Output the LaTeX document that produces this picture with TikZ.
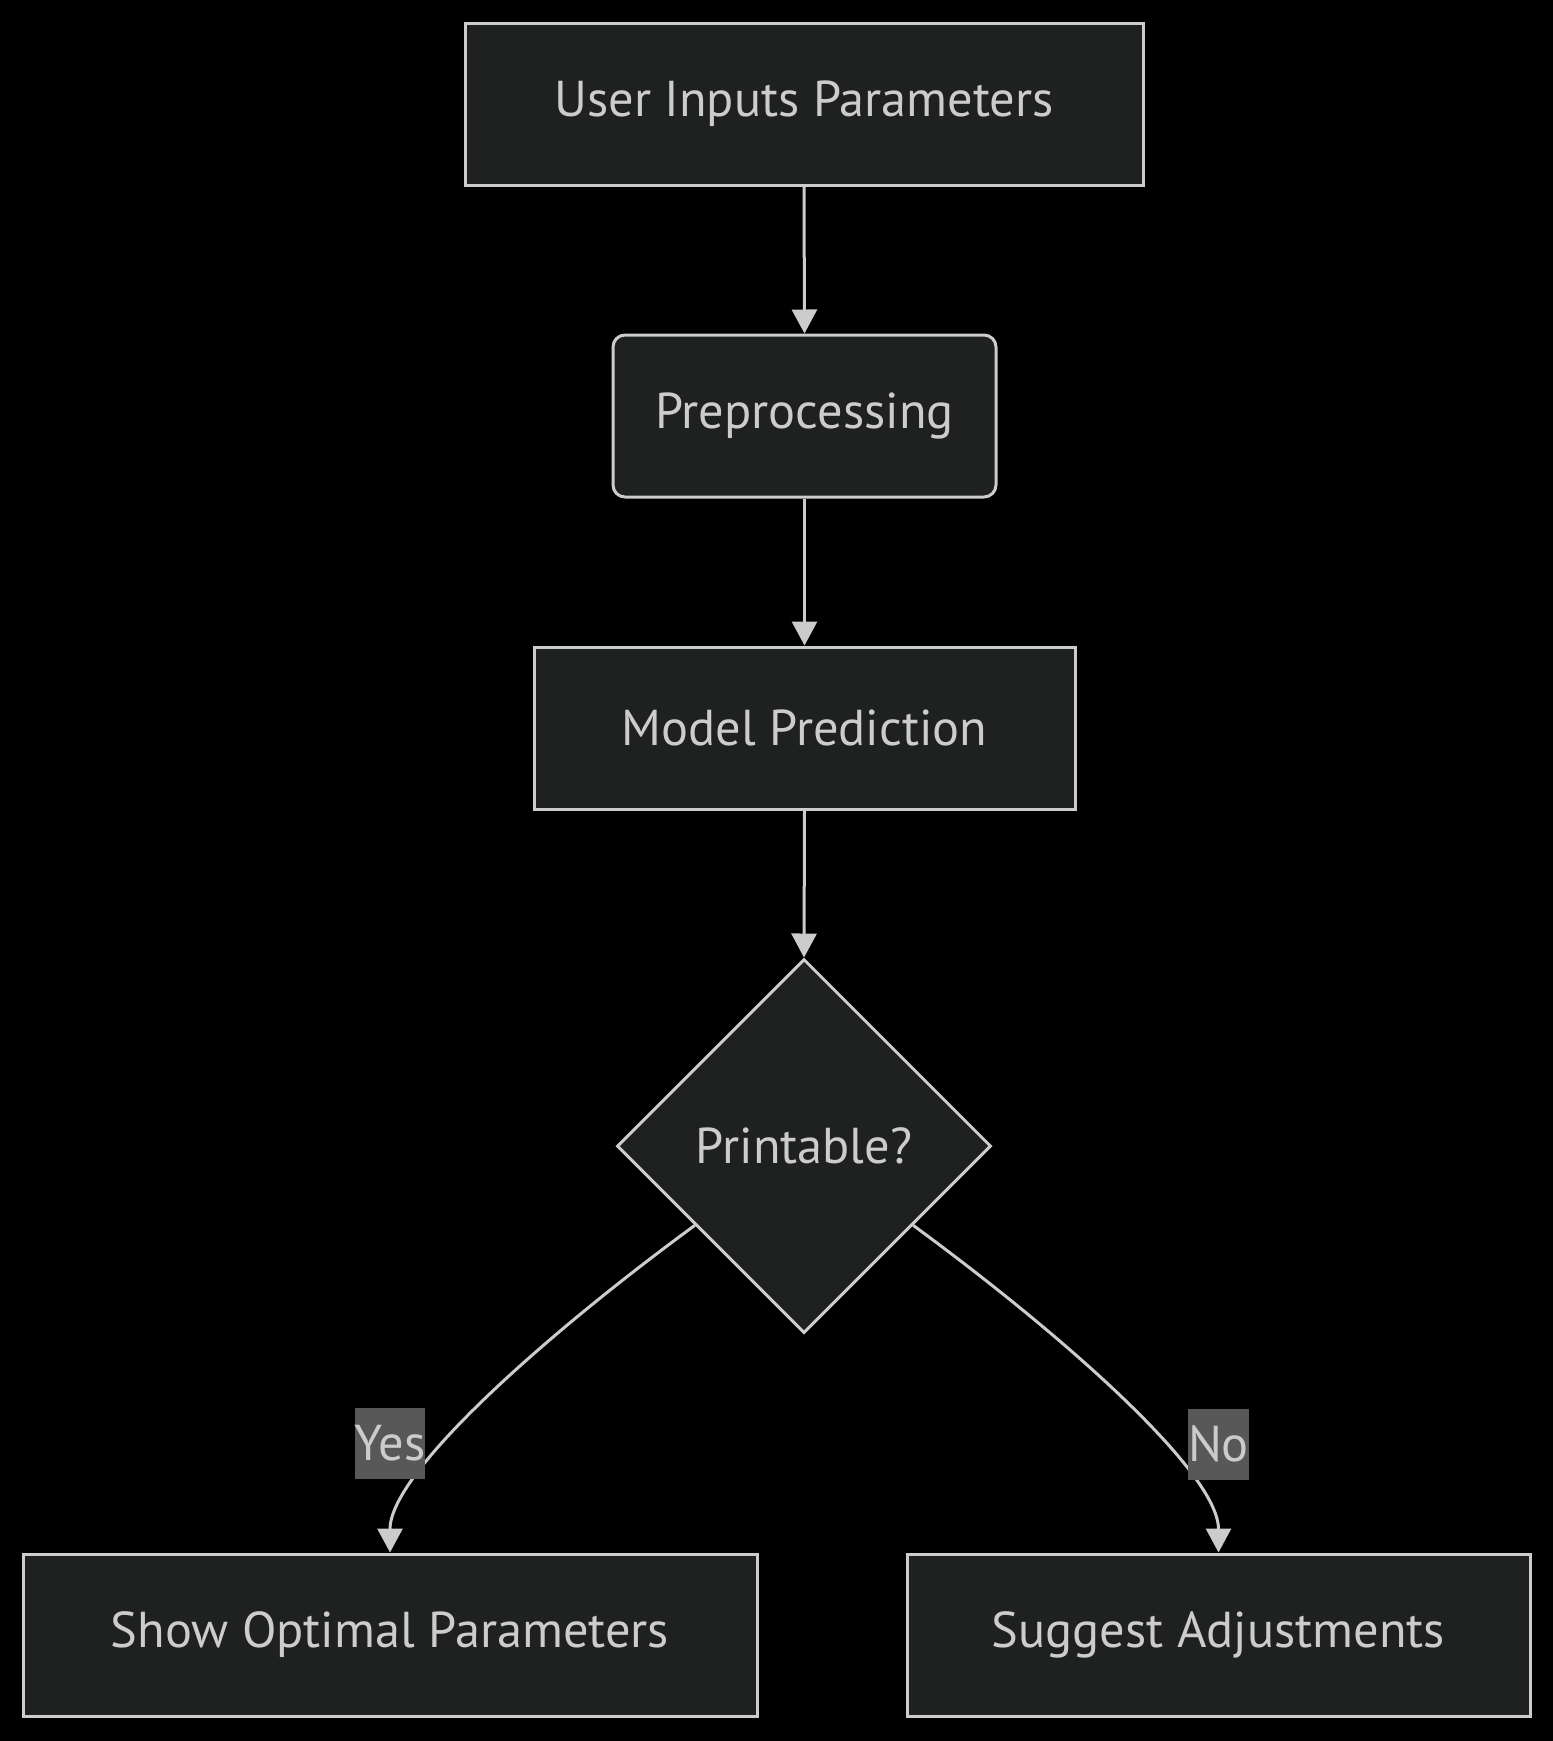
\documentclass[tikz,border=0pt]{standalone}
\usepackage{fontspec}
\setmainfont{PT Sans}
\usetikzlibrary{shapes.geometric,arrows.meta,positioning}
\definecolor{nodefill}{HTML}{1F2020}
\definecolor{linecol}{HTML}{CCCCCC}
\definecolor{labelfill}{HTML}{585858}

\begin{document}
\begin{tikzpicture}[x=0.5pt,y=-0.5pt,
        box/.style={draw=linecol, fill=nodefill, line width=1.5pt, text=linecol,
            font=\fontsize{25.2}{29}\selectfont, inner sep=0pt, minimum height=81pt},
        decision/.style={box, diamond, aspect=1, minimum width=187pt, minimum height=187pt},
        edgelabel/.style={fill=labelfill, text=linecol, inner sep=0pt,
            font=\fontsize{25.2}{29}\selectfont, minimum height=35.5pt},
        flow/.style={draw=linecol, line width=1.5pt, -{Triangle[length=12pt,width=12.5pt]}}]
        \fill[black] (0,0) rectangle (1553,1741);
        \useasboundingbox (0,0) rectangle (1553,1741);
        % nodes
        \node[box, minimum width=339pt] (input) at (804,104) {User Inputs Parameters};
        \node[box, rounded corners=6pt, minimum width=191.5pt] (prep) at (804.5,416) {Preprocessing};
        \node[box, minimum width=270.5pt] (model) at (804.5,728) {Model Prediction};
        \node[decision] (check) at (804,1146) {Printable?};
        \node[box, minimum width=367pt] (show) at (390,1635) {Show Optimal Parameters};
        \node[box, minimum width=311.5pt] (adjust) at (1218.5,1635) {Suggest Adjustments};
        % connectors
        \draw[flow] (input.south) -- (prep.north);
        \draw[flow] (prep.south) -- (model.north);
        \draw[flow] (model.south) -- (check.north);
        \draw[flow] (check.216) .. controls +(-150,110) and +(0,-80) .. (show.north);
        \draw[flow] (check.324) .. controls +(150,110) and +(0,-80) .. (adjust.north);
        \node[edgelabel, minimum width=34.5pt] (yes) at (390,1443) {Yes};
        \node[edgelabel, minimum width=28.5pt] (no) at (1218.5,1444) {No};
        \end{tikzpicture}
\end{document}
